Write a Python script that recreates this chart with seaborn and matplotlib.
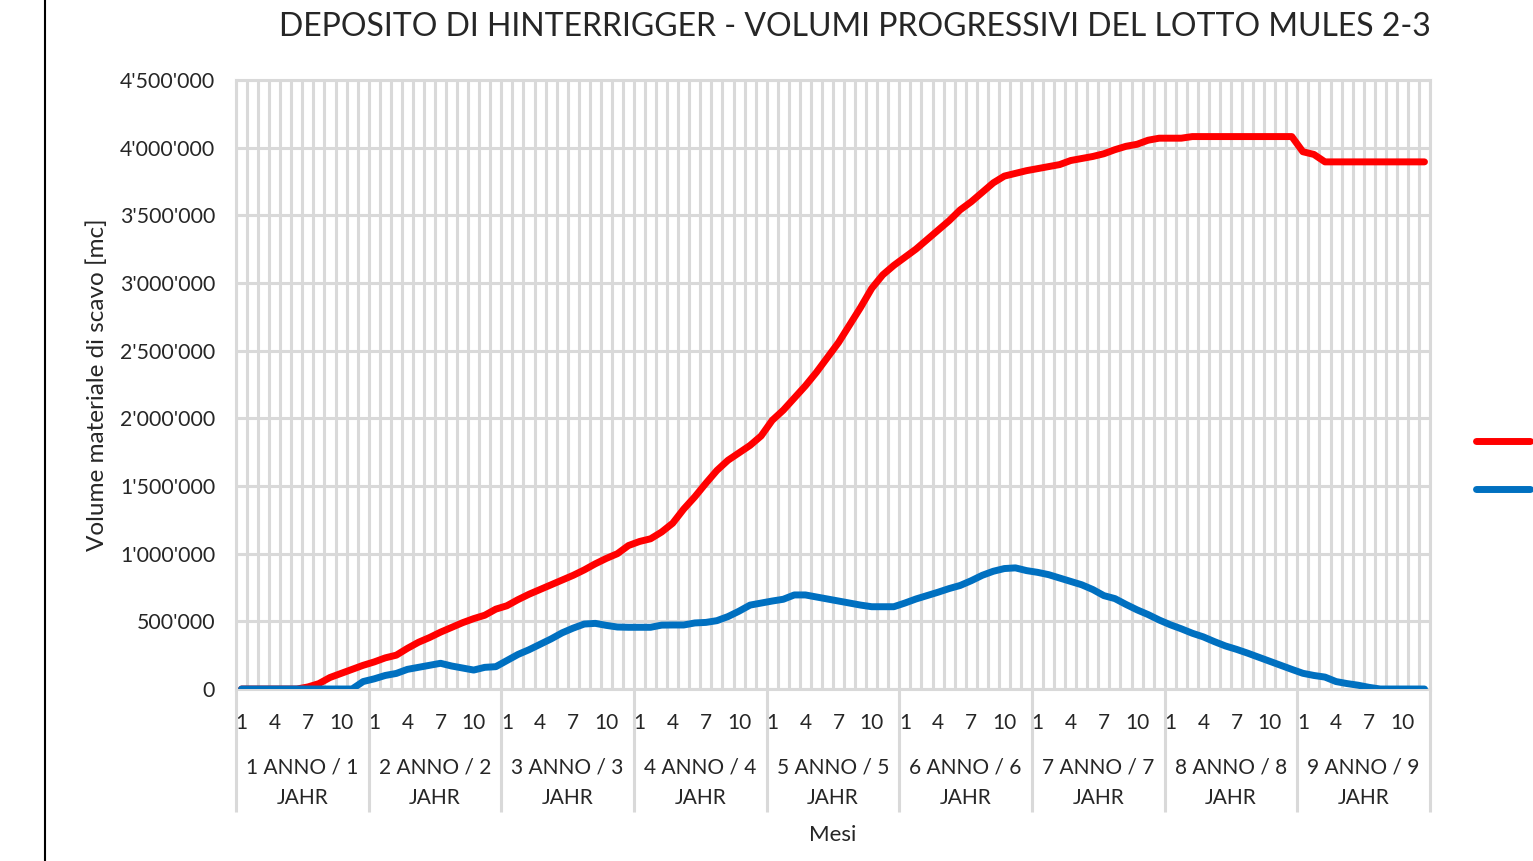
import matplotlib
matplotlib.use("Agg")
import matplotlib.pyplot as plt
import matplotlib.ticker as mticker
import matplotlib.transforms as mtransforms
from matplotlib.lines import Line2D
import numpy as np
import pandas as pd
import seaborn as sns

sns.set_style("white")
plt.rcParams["font.family"] = ["Lato", "DejaVu Sans"]

RED = "#FF0000"
BLUE = "#0070C0"
GRID = "#D9D9D9"

# labels
year_labels = ["1 ANNO / 1\nJAHR", "2 ANNO / 2\nJAHR", "3 ANNO / 3\nJAHR",
               "4 ANNO / 4\nJAHR", "5 ANNO / 5\nJAHR", "6 ANNO / 6\nJAHR",
               "7 ANNO / 7\nJAHR", "8 ANNO / 8\nJAHR", "9 ANNO / 9\nJAHR"]
month_ticks = [1, 4, 7, 10]

# progressive volumes, thousands of m3, one value per month (9 years x 12)
volume_rosso = [
    0, 0, 0, 0, 0, 0, 15, 40, 85, 115, 145, 175,
    200, 230, 250, 300, 345, 380, 420, 455, 490, 520, 545, 590,
    615, 660, 700, 735, 770, 805, 840, 880, 925, 965, 1000, 1060,
    1090, 1110, 1160, 1225, 1330, 1420, 1520, 1615, 1690, 1745, 1800, 1870,
    1985, 2060, 2150, 2240, 2340, 2450, 2560, 2690, 2820, 2960, 3060, 3130,
    3190, 3250, 3320, 3390, 3460, 3540, 3600, 3670, 3740, 3790, 3810, 3830,
    3845, 3860, 3875, 3905, 3920, 3935, 3955, 3985, 4010, 4025, 4055, 4070,
    4070, 4070, 4082, 4082, 4082, 4082, 4082, 4082, 4082, 4082, 4082, 4082,
    3970, 3950, 3895, 3895, 3895, 3895, 3895, 3895, 3895, 3895, 3895, 3895,
]
volume_blu = [
    0, 0, 0, 0, 0, 0, 0, 0, 0, 0, 0, 55,
    75, 100, 115, 145, 160, 175, 190, 170, 155, 140, 160, 165,
    210, 255, 290, 330, 370, 415, 450, 480, 485, 470, 458, 456,
    456, 456, 472, 473, 473, 488, 492, 505, 535, 575, 620, 635,
    650, 663, 695, 695, 680, 665, 650, 635, 620, 608, 608, 608,
    635, 665, 690, 715, 742, 765, 800, 840, 870, 890, 895, 875,
    862, 845, 820, 795, 770, 735, 690, 668, 625, 585, 550, 510,
    475, 445, 412, 385, 350, 318, 293, 265, 235, 205, 175, 145,
    116, 100, 88, 55, 40, 28, 12, 0, 0, 0, 0, 0,
]

n_months = len(volume_rosso)
df = pd.DataFrame({
    "mese": np.arange(n_months),
    "rosso": np.array(volume_rosso) * 1000,
    "blu": np.array(volume_blu) * 1000,
})

fig = plt.figure(figsize=(15.33, 8.61), dpi=100)
ax = fig.add_axes([236 / 1533, 1 - 689 / 861, (1430 - 236) / 1533, (689 - 80) / 861])

sns.lineplot(data=df, x="mese", y="rosso", color=RED, linewidth=5, ax=ax,
             solid_capstyle="round", solid_joinstyle="round", zorder=3)
sns.lineplot(data=df, x="mese", y="blu", color=BLUE, linewidth=5, ax=ax,
             solid_capstyle="round", solid_joinstyle="round", zorder=4)

ax.set_xlim(-0.5, n_months - 0.5)
ax.set_ylim(0, 4500000)

# gridlines: one per month boundary, horizontal every 500'000
ax.set_axisbelow(True)
ax.xaxis.set_minor_locator(mticker.FixedLocator(np.arange(n_months + 1) - 0.5))
ax.grid(which="minor", axis="x", color=GRID, linewidth=2.2)
ax.yaxis.set_major_locator(mticker.MultipleLocator(500000))
ax.grid(which="major", axis="y", color=GRID, linewidth=2.2)
ax.yaxis.set_major_formatter(mticker.FuncFormatter(lambda v, p: f"{v:,.0f}".replace(",", "'")))
for s in ax.spines.values():
    s.set_color(GRID)
    s.set_linewidth(2.2)

# month ticks
pos = [y * 12 + m - 1 for y in range(len(year_labels)) for m in month_ticks]
labs = [str(m) for y in range(len(year_labels)) for m in month_ticks]
ax.set_xticks(pos)
ax.set_xticklabels(labs)
ax.tick_params(axis="x", which="both", length=0, pad=17, labelsize=15)
ax.tick_params(axis="y", length=0, pad=15, labelsize=15.3)

# year groups
trans = mtransforms.blended_transform_factory(ax.transData, ax.transAxes)
for k, lab in enumerate(year_labels):
    ax.text(k * 12 + 5.5, -0.1535, lab, transform=trans, ha="center", va="center",
            fontsize=15, linespacing=1.65)
ax.vlines(np.arange(len(year_labels) + 1) * 12 - 0.5, -0.202, 0, transform=trans,
          color=GRID, linewidth=2.2, clip_on=False)

ax.set_xlabel("Mesi", fontsize=16)
ax.xaxis.set_label_coords(0.5, -0.223)
ax.set_ylabel("Volume materiale di scavo [mc]", fontsize=17.5)
ax.yaxis.set_label_coords(-0.107, 0.5)

fig.text(855 / 1533, 1 - 27 / 861, "DEPOSITO DI HINTERRIGGER - VOLUMI PROGRESSIVI DEL LOTTO MULES 2-3",
         ha="center", va="center", fontsize=23)

# legend (labels are cut off in the original)
handles = [Line2D([], [], color=RED, linewidth=5, solid_capstyle="round"),
           Line2D([], [], color=BLUE, linewidth=5, solid_capstyle="round")]
fig.legend(handles, [" ", " "], loc="center left", bbox_to_anchor=(1458 / 1533, 1 - 466 / 861),
           frameon=False, handlelength=2.8, labelspacing=1.6, fontsize=14)

fig.add_artist(Line2D([45 / 1533, 45 / 1533], [0, 1], transform=fig.transFigure,
                      color="black", linewidth=1.5))

plt.savefig("out.png", dpi=100)
plt.close()
